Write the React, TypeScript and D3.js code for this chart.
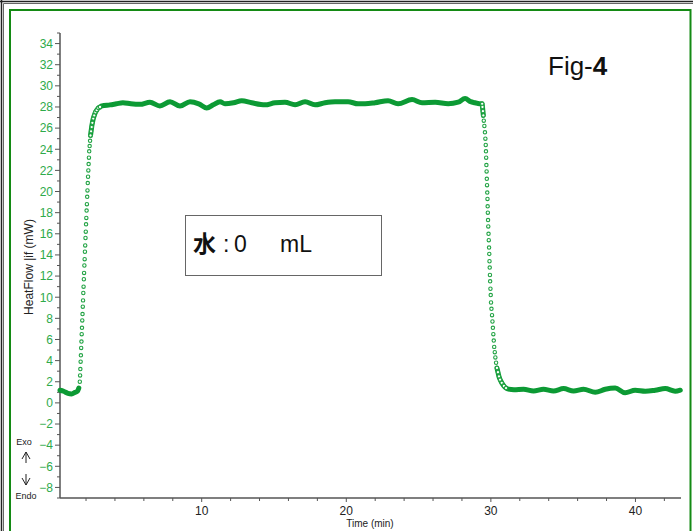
import React from 'react';
import * as d3 from 'd3';

// [time (min), heat flow (mW)]
const baseStart: [number, number][] = [
  [0.2, 1.2], [0.45, 1.1], [0.75, 0.9], [1.0, 0.85], [1.25, 1.0], [1.4, 1.1], [1.5, 1.4],
];
const rise: [number, number][] = [
  [1.57, 2.0], [1.59, 2.6], [1.607, 3.2], [1.627, 3.9], [1.645, 4.5], [1.664, 5.2], [1.683, 5.8],
  [1.7, 6.5], [1.72, 7.1], [1.74, 7.8], [1.758, 8.4], [1.776, 9.1], [1.794, 9.7], [1.812, 10.4],
  [1.83, 11.0], [1.85, 11.7], [1.866, 12.3], [1.886, 13.0], [1.905, 13.6], [1.924, 14.3],
  [1.943, 14.9], [1.963, 15.6], [1.982, 16.2], [2.002, 16.9], [2.02, 17.5], [2.04, 18.2],
  [2.06, 18.8], [2.08, 19.5], [2.1, 20.1], [2.12, 20.8], [2.14, 21.4], [2.16, 22.0], [2.18, 22.6],
  [2.2, 23.2], [2.22, 23.8], [2.25, 24.3], [2.28, 24.8], [2.31, 25.3], [2.35, 25.7], [2.39, 26.1],
  [2.44, 26.5], [2.5, 26.9], [2.57, 27.2], [2.65, 27.5], [2.74, 27.7], [2.85, 27.9], [2.97, 28.0],
];
const plateau: [number, number][] = [
  [3.1, 28.1], [3.65, 28.2], [4.1, 28.3], [4.55, 28.4], [5.1, 28.3], [5.73, 28.25], [6.42, 28.45],
  [7.11, 28.1], [7.81, 28.5], [8.5, 28.1], [9.19, 28.5], [9.8, 28.3], [10.35, 27.9], [10.8, 28.2],
  [11.27, 28.5], [11.61, 28.3], [12.2, 28.4], [12.77, 28.6], [13.46, 28.4], [14.38, 28.2],
  [15.07, 28.4], [15.76, 28.45], [16.46, 28.2], [17.15, 28.5], [17.84, 28.2], [18.53, 28.4],
  [19.22, 28.5], [20.12, 28.5], [20.82, 28.3], [21.3, 28.3], [21.99, 28.4], [22.89, 28.6],
  [23.58, 28.3], [24.55, 28.7], [25.24, 28.4], [26.15, 28.45], [27.05, 28.3], [27.74, 28.45],
  [28.22, 28.8], [28.6, 28.5], [28.91, 28.4], [29.2, 28.3],
];
const fall: [number, number][] = [
  [29.4, 28.3], [29.42, 28.0], [29.45, 27.6], [29.48, 27.2], [29.51, 26.7], [29.55, 26.2],
  [29.59, 25.6], [29.62, 25.0], [29.645, 24.4], [29.66, 23.8], [29.675, 23.2], [29.69, 22.5],
  [29.705, 21.9], [29.72, 21.2], [29.735, 20.6], [29.75, 19.9], [29.765, 19.3], [29.778, 18.6],
  [29.79, 18.0], [29.805, 17.3], [29.82, 16.7], [29.838, 16.0], [29.855, 15.4], [29.875, 14.7],
  [29.89, 14.1], [29.905, 13.4], [29.92, 12.8], [29.935, 12.1], [29.95, 11.5], [29.97, 10.8],
  [29.99, 10.2], [30.01, 9.5], [30.04, 8.9], [30.08, 8.3], [30.11, 7.7], [30.14, 7.1], [30.17, 6.5],
  [30.2, 5.9], [30.23, 5.3], [30.27, 4.8], [30.31, 4.3], [30.36, 3.8], [30.42, 3.3], [30.49, 2.9],
  [30.56, 2.5], [30.64, 2.2], [30.75, 1.9], [30.9, 1.6], [31.05, 1.4],
];
const baseEnd: [number, number][] = [
  [31.22, 1.3], [31.6, 1.25], [32.26, 1.3], [32.95, 1.13], [33.64, 1.29], [34.33, 1.13],
  [35.03, 1.35], [35.72, 1.13], [36.41, 1.29], [37.22, 1.0], [37.91, 1.29], [38.6, 1.4],
  [39.29, 0.95], [39.98, 1.2], [40.68, 1.1], [41.37, 1.2], [42.06, 1.35], [42.75, 1.1], [43.1, 1.2],
];

const xMajorTicks = [10, 20, 30, 40];
const yLabelTicks = d3.range(-8, 35, 2);

const W = 693;
const H = 531;
const GREEN = '#0c9a34';
const LABEL_GREEN = '#2eaa4a';
const AXIS = '#555';
const FONT = '"Liberation Sans", Arial, sans-serif';

const App = () => {
  const x = d3.scaleLinear().domain([0.2, 43.15]).range([60, 681]);
  const y = d3.scaleLinear().domain([-9, 35]).range([498, 33]);

  // join the whole record; the markers overlap into a solid band except on the steep parts
  const all = [...baseStart, ...rise, ...plateau, ...fall, ...baseEnd];
  const segments: [number, number][][] = [];
  let cur: [number, number][] = [];
  all.forEach((d, i) => {
    if (i > 0) {
      const p = all[i - 1];
      const dy = Math.abs(y(d[1]) - y(p[1]));
      const dx = Math.abs(x(d[0]) - x(p[0]));
      if (dy > 4.5 && dy > dx) {
        segments.push(cur);
        cur = [];
      }
    }
    cur.push(d);
  });
  segments.push(cur);

  const line = d3.line<[number, number]>()
    .x(d => x(d[0]))
    .y(d => y(d[1]))
    .curve(d3.curveMonotoneX);

  const xMinor = d3.range(2, 44, 2).filter(t => t % 10 !== 0);
  const yMinor = d3.range(-9, 36, 1).filter(v => v % 2 !== 0);

  return (
    <svg width={W} height={H} style={{ position: 'absolute', left: 0, top: 0, background: '#fff' }}>
      {/* outer frames */}
      <line x1={0} x2={W} y1={1.5} y2={1.5} stroke="#222" strokeWidth={1.5} />
      <line x1={3.5} x2={W} y1={3.5} y2={3.5} stroke="#666" strokeWidth={1} />
      <line x1={1.5} x2={1.5} y1={0} y2={H} stroke="#222" strokeWidth={1.5} />
      <line x1={3.5} x2={3.5} y1={3.5} y2={H} stroke="#666" strokeWidth={1} />
      <rect x={10} y={10} width={680.5} height={H + 10} fill="none" stroke="#148a14" strokeWidth={2} />

      {/* axes */}
      <line x1={60} x2={60} y1={33} y2={498} stroke={AXIS} strokeWidth={1.5} />
      <line x1={60} x2={681} y1={498} y2={498} stroke={AXIS} strokeWidth={1.5} />
      {yLabelTicks.map(v => (
        <g key={'yt' + v}>
          <line x1={55} x2={60} y1={y(v)} y2={y(v)} stroke={AXIS} strokeWidth={1} />
          <text x={53} y={y(v)} dy="0.36em" textAnchor="end" fontSize={12} fontFamily={FONT} fill={LABEL_GREEN}>
            {v < 0 ? '\u2212' + Math.abs(v) : v}
          </text>
        </g>
      ))}
      {yMinor.map(v => (
        <line key={'ym' + v} x1={57} x2={60} y1={y(v)} y2={y(v)} stroke={AXIS} strokeWidth={1} />
      ))}
      {xMinor.map(t => (
        <line key={'xm' + t} x1={x(t)} x2={x(t)} y1={498} y2={501} stroke={AXIS} strokeWidth={1} />
      ))}
      {xMajorTicks.map(t => (
        <g key={'xt' + t}>
          <line x1={x(t)} x2={x(t)} y1={498} y2={502} stroke={AXIS} strokeWidth={1} />
          <text x={x(t)} y={515} textAnchor="middle" fontSize={12} fontFamily={FONT} fill="#222">{t}</text>
        </g>
      ))}
      <text x={370} y={527} textAnchor="middle" fontSize={10} fontFamily={FONT} fill="#222">Time (min)</text>
      <text transform="translate(33,267) rotate(-90)" textAnchor="middle" fontSize={12} fontFamily={FONT} fill="#222">
        HeatFlow |if (mW)
      </text>

      {/* Exo / Endo marker */}
      <text x={24} y={445} textAnchor="middle" fontSize={9} fontFamily={FONT} fill="#222">Exo</text>
      <g stroke="#222" strokeWidth={1} fill="none">
        <path d="M26,452 L26,463 M22,459 L26,452 L30,459" />
        <path d="M26,474 L26,485 M22,478 L26,485 L30,478" />
      </g>
      <text x={26} y={499} textAnchor="middle" fontSize={9} fontFamily={FONT} fill="#222">Endo</text>

      {/* data */}
      {segments.filter(s => s.length > 1).map((s, i) => (
        <path key={'seg' + i} d={line(s) || ''} fill="none" stroke={GREEN} strokeWidth={5}
          strokeLinecap="round" strokeLinejoin="round" />
      ))}
      {[...rise, ...fall].map((d, i) => (
        <circle key={'c' + i} cx={x(d[0])} cy={y(d[1])} r={1.7} fill="#fff" stroke="#22a344" strokeWidth={1.1} />
      ))}

      {/* annotations */}
      <text x={548} y={75} fontSize={26} fontFamily={FONT} fill="#111">
        Fig-<tspan fontWeight="bold">4</tspan>
      </text>
      <rect x={185.5} y={215.5} width={196} height={60} fill="#fff" stroke="#666" strokeWidth={1} />
      <text y={252} fontSize={23} fill="#111" fontFamily={'"Noto Sans CJK JP", ' + FONT}>
        <tspan x={193} fontWeight="bold">水</tspan>
        <tspan x={223} fontFamily={FONT}>:</tspan>
        <tspan x={234} fontFamily={FONT}>0</tspan>
        <tspan x={280} fontFamily={FONT}>mL</tspan>
      </text>
    </svg>
  );
};

export default App;
